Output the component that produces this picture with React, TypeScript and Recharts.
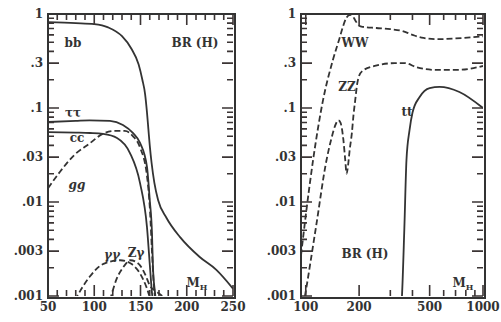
import React from "react";
import { LineChart, Line, XAxis, YAxis } from "recharts";

const INK = "#333333";
const TICK_INK = "#3b3434";
const FONT = "'DejaVu Serif', serif";

// ---- left panel, M_H 50..250 GeV ----
const BB_M = [50, 80, 100, 115, 130, 140, 148, 152, 155, 157, 158.5, 160, 162, 165, 169, 178, 193, 214, 232, 250];
const BB_BR = [0.82, 0.8, 0.78, 0.72, 0.58, 0.43, 0.29, 0.2, 0.14, 0.09, 0.06, 0.04, 0.026, 0.016, 0.0105, 0.0068, 0.0042, 0.0026, 0.0019, 0.0012];

const TAU_M = [50, 80, 95, 117, 131, 142, 149.5, 157, 160, 162.4, 163.5, 165.7, 167];
const TAU_BR = [0.071, 0.073, 0.074, 0.073, 0.066, 0.054, 0.0425, 0.0236, 0.0105, 0.0047, 0.002, 0.00108, 0.0008];

const CC_M = [50, 80, 95.4, 109.5, 124.6, 138.6, 149.5, 157, 160.3, 162.4, 164];
const CC_BR = [0.0555, 0.0548, 0.0542, 0.053, 0.048, 0.0332, 0.0159, 0.0054, 0.002, 0.00108, 0.0008];

const GG_M = [50, 63, 79, 95, 109, 122, 133, 142, 149.5, 157, 160.3, 162.4, 164, 166];
const GG_BR = [0.014, 0.021, 0.032, 0.042, 0.053, 0.057, 0.057, 0.05, 0.038, 0.019, 0.008, 0.003, 0.0015, 0.0009];

const AA_M = [79, 95, 110, 128, 140, 150, 157, 161];
const AA_BR = [0.0009, 0.0016, 0.0022, 0.0024, 0.0022, 0.0017, 0.0012, 0.0009];

const ZA_M = [117, 124, 131, 139, 148, 155, 160, 168, 180];
const ZA_BR = [0.0009, 0.0015, 0.002, 0.0024, 0.0022, 0.0017, 0.0013, 0.0011, 0.0009];

// ---- right panel, M_H 94..1000 GeV ----
const WW_M = [94, 100, 110, 125, 142, 155, 162, 170, 178, 184, 190, 200, 210, 250, 300, 350, 400, 450, 550, 700, 1000];
const WW_BR = [0.0027, 0.0072, 0.028, 0.12, 0.32, 0.55, 0.73, 0.92, 0.98, 0.95, 0.86, 0.75, 0.73, 0.71, 0.69, 0.66, 0.6, 0.56, 0.54, 0.55, 0.58];

const ZZ_M = [97, 99, 114, 131, 139, 148, 153, 157, 163, 167, 170, 173, 177, 182, 186, 190, 195, 200, 210, 245, 318, 362, 425, 548, 736, 1000];
const ZZ_BR = [0.0008, 0.001, 0.0053, 0.028, 0.046, 0.068, 0.074, 0.07, 0.046, 0.028, 0.02, 0.024, 0.036, 0.054, 0.085, 0.12, 0.18, 0.22, 0.25, 0.28, 0.3, 0.3, 0.27, 0.254, 0.255, 0.28];

const TT_M = [345, 349, 360, 370, 385, 400, 439, 500, 569, 736, 1000];
const TT_BR = [0.0007, 0.001, 0.0053, 0.028, 0.058, 0.089, 0.131, 0.163, 0.168, 0.148, 0.1];

// ---- ticks ----
const Y_TICKS = [
  0.001, 0.002, 0.003, 0.004, 0.005, 0.006, 0.007, 0.008, 0.009,
  0.01, 0.02, 0.03, 0.04, 0.05, 0.06, 0.07, 0.08, 0.09,
  0.1, 0.2, 0.3, 0.4, 0.5, 0.6, 0.7, 0.8, 0.9, 1,
];
const Y_LABELS: Record<string, string> = {
  "1": "1", "0.3": ".3", "0.1": ".1", "0.03": ".03", "0.01": ".01", "0.003": ".003", "0.001": ".001",
};

const XL_TICKS = [50, 60, 70, 80, 90, 100, 110, 120, 130, 140, 150, 160, 170, 180, 190, 200, 210, 220, 230, 240, 250];
const XL_MAJOR = [50, 100, 150, 200, 250];

const XR_TICKS = [100, 200, 300, 400, 500, 600, 700, 800, 900, 1000];
const XR_MAJOR = [100, 200, 500, 1000];

const pts = (m: number[], v: number[]) => m.map((x, i) => ({ m: x, br: v[i] }));

const textStyle = { fontFamily: FONT, fontWeight: 700, fontSize: 12, fill: INK } as const;
const PLOT_H = 282;

// y ticks: label outside, inward marks on the left edge and mirrored on the right edge
const yTick = (plotW: number) => (p: any) => {
  const v = p.payload.value;
  const lab = Y_LABELS[String(v)];
  const len = lab ? 11 : 6;
  return (
    <g>
      <path d={`M${p.x},${p.y}h${len}M${p.x + plotW},${p.y}h${-len}`} stroke={TICK_INK} strokeWidth={1.6} fill="none" />
      {lab && (
        <text x={p.x - 5} y={p.y + 4} textAnchor="end" style={textStyle}>
          {lab}
        </text>
      )}
    </g>
  );
};

// x ticks: label below, inward marks on the bottom edge and mirrored on the top edge
const xTick = (major: number[]) => (p: any) => {
  const v = p.payload.value;
  const isMajor = major.includes(v);
  const len = isMajor ? 11 : 6;
  return (
    <g>
      <path d={`M${p.x},${p.y}v${-len}M${p.x},${p.y - PLOT_H}v${len}`} stroke={TICK_INK} strokeWidth={1.6} fill="none" />
      {isMajor && (
        <text x={p.x} y={p.y + 15} textAnchor="middle" style={textStyle}>
          {v}
        </text>
      )}
    </g>
  );
};

const curve = (data: { m: number; br: number }[], dashed: boolean, key: string) => (
  <Line
    key={key}
    data={data}
    dataKey="br"
    type="monotone"
    stroke={INK}
    strokeWidth={1.8}
    strokeDasharray={dashed ? "6 3" : undefined}
    dot={false}
    activeDot={false}
    isAnimationActive={false}
  />
);

const Label = ({ x, y, children, italic }: { x: number; y: number; children: React.ReactNode; italic?: boolean }) => (
  <text x={x} y={y + 4} textAnchor="middle" style={{ ...textStyle, fontStyle: italic ? "italic" : "normal" }}>
    {children}
  </text>
);

const MH = ({ x, y }: { x: number; y: number }) => (
  <text x={x} y={y + 4} textAnchor="middle" style={textStyle}>
    M<tspan fontSize={8} dy={3}>H</tspan>
  </text>
);

// panel frame as a plain bordered box around each plot area
const FrameBox = ({ left, width }: { left: number; width: number }) => (
  <div
    style={{
      position: "absolute",
      left: left - 1,
      top: 13,
      width,
      height: PLOT_H,
      border: `2px solid ${INK}`,
      boxSizing: "content-box",
      pointerEvents: "none",
    }}
  />
);

export default function App() {
  return (
    <div style={{ position: "absolute", left: 0, top: 0, width: 501, height: 322, background: "#fff" }}>
      <div style={{ position: "absolute", left: 0, top: 0 }}>
        <LineChart width={250} height={322} margin={{ top: 14, right: 17, bottom: 0, left: 8 }}>
          <XAxis dataKey="m" type="number" domain={[50, 250]} allowDataOverflow ticks={XL_TICKS} interval={0} tickSize={0} tickMargin={0} tickLine={false} axisLine={false} height={26} tick={xTick(XL_MAJOR)} />
          <YAxis type="number" scale="log" domain={[0.001, 1]} allowDataOverflow ticks={Y_TICKS} interval={0} tickSize={0} tickMargin={0} tickLine={false} axisLine={false} width={40} tick={yTick(185)} />
          {curve(pts(BB_M, BB_BR), false, "bb")}
          {curve(pts(TAU_M, TAU_BR), false, "tau")}
          {curve(pts(CC_M, CC_BR), false, "cc")}
          {curve(pts(GG_M, GG_BR), true, "gg")}
          {curve(pts(AA_M, AA_BR), true, "aa")}
          {curve(pts(ZA_M, ZA_BR), true, "za")}
        </LineChart>
      </div>
      <div style={{ position: "absolute", left: 250, top: 0 }}>
        <LineChart width={251} height={322} margin={{ top: 14, right: 18, bottom: 0, left: 11 }}>
          <XAxis dataKey="m" type="number" scale="log" domain={[94, 1000]} allowDataOverflow ticks={XR_TICKS} interval={0} tickSize={0} tickMargin={0} tickLine={false} axisLine={false} height={26} tick={xTick(XR_MAJOR)} />
          <YAxis type="number" scale="log" domain={[0.001, 1]} allowDataOverflow ticks={Y_TICKS} interval={0} tickSize={0} tickMargin={0} tickLine={false} axisLine={false} width={40} tick={yTick(182)} />
          {curve(pts(WW_M, WW_BR), true, "ww")}
          {curve(pts(ZZ_M, ZZ_BR), true, "zz")}
          {curve(pts(TT_M, TT_BR), false, "tt")}
        </LineChart>
      </div>
      <FrameBox left={48} width={185} />
      <FrameBox left={301} width={182} />
      <svg width={501} height={322} style={{ position: "absolute", left: 0, top: 0, pointerEvents: "none" }}>
        <Label x={73} y={43}>bb</Label>
        <Label x={195} y={43}>BR (H)</Label>
        <Label x={73} y={113}>ττ</Label>
        <Label x={77} y={138}>cc</Label>
        <Label x={77} y={185} italic>gg</Label>
        <Label x={112} y={255} italic>γγ</Label>
        <Label x={136} y={253}>Zγ</Label>
        <MH x={197} y={283} />
        <Label x={355} y={43}>WW</Label>
        <Label x={347} y={87}>ZZ</Label>
        <Label x={407} y={112}>tt</Label>
        <Label x={365} y={254}>BR (H)</Label>
        <MH x={463} y={283} />
      </svg>
    </div>
  );
}
